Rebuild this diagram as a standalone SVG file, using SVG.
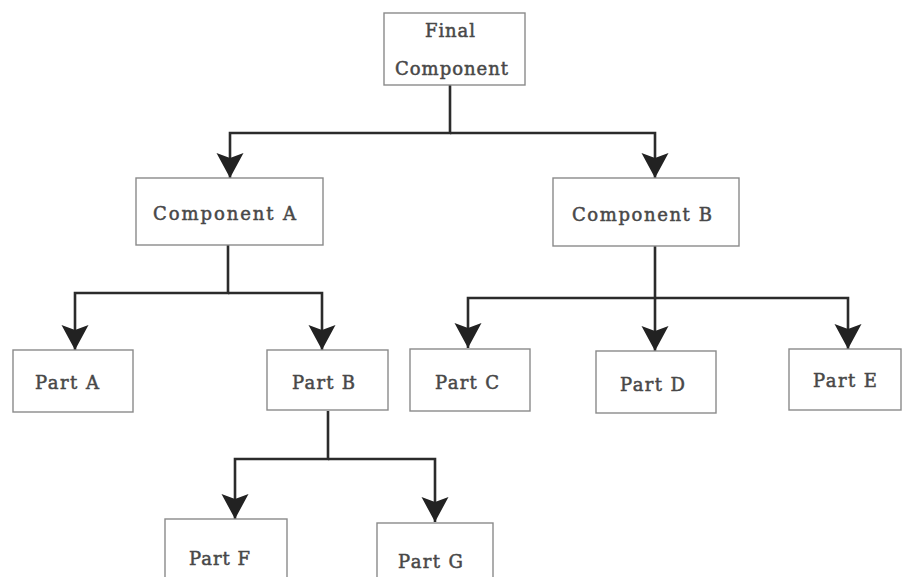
<svg xmlns="http://www.w3.org/2000/svg" width="902" height="577" viewBox="0 0 902 577">
<style>
.box{fill:#fff;stroke:#8a8a8a;stroke-width:1.4}
.lbl{font-family:"DejaVu Serif","Liberation Serif",serif;font-size:18px;fill:#484848;stroke:#484848;stroke-width:0.5}
.con{fill:none;stroke:#2b2b2b;stroke-width:2.6;marker-end:url(#ah)}
</style>
<defs>
<marker id="ah" markerUnits="userSpaceOnUse" markerWidth="28" markerHeight="30" viewBox="-26 -15 28 30" refX="0" refY="0" orient="auto">
<path d="M0,0 L-25,-13.5 L-20,0 L-25,13.5 Z" fill="#222"/>
</marker>
</defs>
<rect width="902" height="577" fill="#fff"/>
<g id="connectors">
<path class="con" d="M450,85 V133 H230 V178"/>
<path class="con" d="M450,133 H655 V178"/>
<path class="con" d="M228,245 V293 H75 V350"/>
<path class="con" d="M228,293 H322 V350"/>
<path class="con" d="M655,246 V298 H468 V348"/>
<path class="con" d="M655,298 V351"/>
<path class="con" d="M655,298 H848 V349"/>
<path class="con" d="M328,411 V459 H235 V519"/>
<path class="con" d="M328,459 H435 V522"/>
</g>
<g id="final">
<rect class="box" x="384" y="13" width="141" height="72"/>
<text class="lbl" x="425" y="37" textLength="50" lengthAdjust="spacing">Final</text>
<text class="lbl" x="395" y="75" textLength="113" lengthAdjust="spacing">Component</text>
</g>
<g id="compA">
<rect class="box" x="136" y="178" width="187" height="67"/>
<text class="lbl" x="153" y="220" textLength="143" lengthAdjust="spacing">Component  A</text>
</g>
<g id="compB">
<rect class="box" x="553" y="178" width="186" height="68"/>
<text class="lbl" x="572" y="221" textLength="140" lengthAdjust="spacing">Component  B</text>
</g>
<g id="partA">
<rect class="box" x="13" y="350" width="120" height="62"/>
<text class="lbl" x="35" y="389" textLength="64" lengthAdjust="spacing">Part  A</text>
</g>
<g id="partB">
<rect class="box" x="267" y="350" width="121" height="60"/>
<text class="lbl" x="292" y="389" textLength="63" lengthAdjust="spacing">Part  B</text>
</g>
<g id="partC">
<rect class="box" x="410" y="349" width="120" height="62"/>
<text class="lbl" x="435" y="389" textLength="64" lengthAdjust="spacing">Part  C</text>
</g>
<g id="partD">
<rect class="box" x="596" y="351" width="120" height="62"/>
<text class="lbl" x="620" y="391" textLength="65" lengthAdjust="spacing">Part  D</text>
</g>
<g id="partE">
<rect class="box" x="789" y="349" width="112" height="61"/>
<text class="lbl" x="813" y="387" textLength="64" lengthAdjust="spacing">Part  E</text>
</g>
<g id="partF">
<rect class="box" x="165" y="519" width="122" height="70"/>
<text class="lbl" x="189" y="565" textLength="61" lengthAdjust="spacing">Part  F</text>
</g>
<g id="partG">
<rect class="box" x="377" y="523" width="116" height="70"/>
<text class="lbl" x="398" y="568" textLength="65" lengthAdjust="spacing">Part  G</text>
</g>
</svg>
